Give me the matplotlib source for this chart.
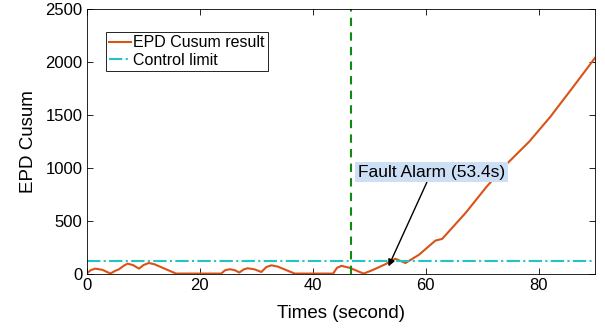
import matplotlib
matplotlib.use("Agg")
import matplotlib.pyplot as plt
import numpy as np

# EPD Cusum statistic over time (seconds)
time_s = [0, 0.7, 1.5, 2.8, 4.2, 5.0, 5.7, 6.5, 7.2, 8.2, 9.25, 10.1, 11.0, 12.0,
          15.8, 23.8, 24.5, 25.3, 26.2, 27.0, 27.8, 28.5, 29.7, 30.9, 31.8, 32.7,
          33.8, 36.8, 43.6, 44.3, 45.1, 46.5, 49.0, 50.5, 52.8, 54.6, 56.4, 58.8,
          61.7, 62.9, 67.1, 70.6, 74.2, 78.3, 82.0, 86.0, 90.0]
cusum = [0, 32, 47, 35, 0, 25, 40, 72, 94, 80, 47, 82, 100, 88,
         0, 0, 32, 41, 32, 10, 40, 50, 40, 15, 62, 78,
         66, 0, 0, 55, 73, 55, 0, 31, 87, 140, 100, 178,
         312, 328, 577, 811, 1030, 1248, 1480, 1760, 2044]

control_limit = 115
fault_time = 46.7          # onset of the fault
alarm_time = 53.4          # first crossing of the control limit
alarm_value = 68

plt.rcParams['font.family'] = ['Liberation Sans', 'DejaVu Sans']

fig, ax = plt.subplots(figsize=(6.05, 3.3), dpi=100)
fig.subplots_adjust(left=0.1433, right=0.984, top=0.972, bottom=0.171)

ax.plot(time_s, cusum, color='#D95319', lw=1.5, label='EPD Cusum result')
ax.axhline(control_limit, color='#22c4c4', lw=1.5, ls='-.', label='Control limit')
ax.axvline(fault_time, color='#108a10', lw=1.5, ls=(0, (4, 3)))

ax.annotate('Fault Alarm (53.4s)', xy=(alarm_time, alarm_value), xytext=(61.0, 958),
            ha='center', va='center', fontsize=12.5,
            bbox=dict(boxstyle='square,pad=0.15', fc='#cddff5', ec='none'),
            arrowprops=dict(arrowstyle='-|>', color='black', lw=1.0,
                            shrinkA=0, shrinkB=0, mutation_scale=10))

ax.set_xlim(0, 90)
ax.set_ylim(0, 2500)
ax.set_xticks([0, 20, 40, 60, 80])
ax.set_yticks([0, 500, 1000, 1500, 2000, 2500])
ax.tick_params(direction='in', top=True, right=True, labelsize=12, length=4, width=0.6,
               pad=3)
for s in ax.spines.values():
    s.set_linewidth(0.6)
ax.set_xlabel('Times (second)', fontsize=13.5, labelpad=9)
ax.set_ylabel('EPD Cusum', fontsize=13.5, labelpad=6)

leg = ax.legend(loc='upper left', bbox_to_anchor=(0.037, 0.914), fontsize=11.5,
                fancybox=False, framealpha=1, edgecolor='black',
                handlelength=1.4, handletextpad=0.15, borderpad=0.2,
                labelspacing=0.15, borderaxespad=0)
leg.get_frame().set_linewidth(0.6)

fig.savefig('out.png', dpi=100)
